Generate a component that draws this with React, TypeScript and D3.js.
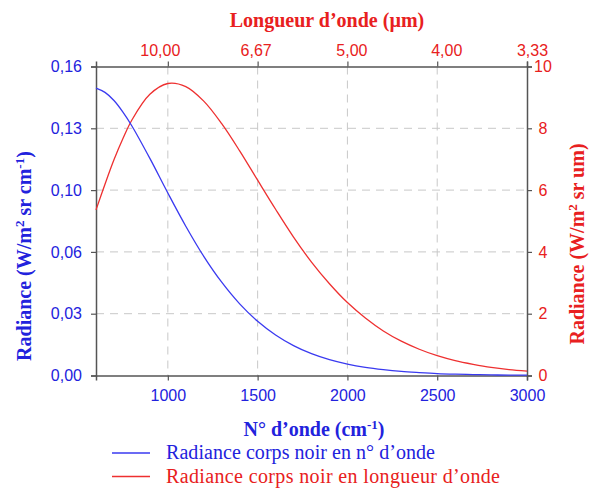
import * as d3 from "d3";
import { useEffect, useRef } from "react";

// wavenumber grid (cm-1)
const waveNumbers = [600, 650, 700, 750, 800, 900, 1000, 1100, 1200, 1300, 1400, 1500, 1600, 1700, 1800,
  1900, 2000, 2100, 2200, 2300, 2400, 2500, 2600, 2700, 2800, 2900, 3000];
// radiance per wavenumber (W/m2 sr cm-1)
const radianceNu = [0.1488, 0.1466, 0.1424, 0.1364, 0.1292, 0.1124, 0.0945, 0.0773, 0.0617, 0.0483,
  0.0371, 0.0281, 0.0210, 0.0155, 0.0113, 0.0082, 0.0059, 0.0042, 0.0030, 0.0021, 0.0015, 0.0010,
  0.0007, 0.0005, 0.0003, 0.0002, 0.00016];
// radiance per wavelength (W/m2 sr um)
const radianceLambda = [5.36, 6.19, 6.98, 7.67, 8.27, 9.10, 9.45, 9.35, 8.88, 8.15, 7.27, 6.32, 5.38,
  4.48, 3.67, 2.97, 2.36, 1.86, 1.44, 1.11, 0.85, 0.64, 0.48, 0.36, 0.26, 0.19, 0.14];

const bottomTicks = [1000, 1500, 2000, 2500, 3000];
const topTickLabels = ["10,00", "6,67", "5,00", "4,00", "3,33"];
const leftTickValues = [0, 0.032, 0.064, 0.096, 0.128, 0.16];
const leftTickLabels = ["0,00", "0,03", "0,06", "0,10", "0,13", "0,16"];
const rightTicks = [0, 2, 4, 6, 8, 10];

// the top labels sit a little off their ticks in the original
const topLabelShift = [-8, -2, 4, 9, 5];

const BLUE = "#2222dd";
const RED = "#e82020";
const LINE_BLUE = "#3a3af0";
const LINE_RED = "#ee3030";

const App = () => {
  const ref = useRef<SVGSVGElement>(null);
  const margin = { top: 66.5, right: 62, bottom: 112.5, left: 96 };
  const W = 589;
  const H = 488;
  const width = W - margin.left - margin.right;
  const height = H - margin.top - margin.bottom;

  useEffect(() => {
    const svg = d3.select(ref.current);
    svg.selectAll("*").remove();

    const x = d3.scaleLinear().domain([600, 3000]).range([0, width]);
    const yL = d3.scaleLinear().domain([0, 0.16]).range([height, 0]);
    const yR = d3.scaleLinear().domain([0, 10]).range([height, 0]);

    const g = svg.append("g").attr("transform", `translate(${margin.left},${margin.top})`);

    // grid
    g.selectAll(".vgrid").data(bottomTicks.slice(0, -1)).join("line")
      .attr("x1", (d) => x(d)).attr("x2", (d) => x(d))
      .attr("y1", 0).attr("y2", height)
      .attr("stroke", "#c8c8c8").attr("stroke-dasharray", "8,6");
    g.selectAll(".hgrid").data(rightTicks.slice(1, -1)).join("line")
      .attr("x1", 0).attr("x2", width)
      .attr("y1", (d) => yR(d)).attr("y2", (d) => yR(d))
      .attr("stroke", "#c8c8c8").attr("stroke-dasharray", "8,6");

    const font = "'Liberation Sans', Arial, sans-serif";

    // bottom axis
    const xAxis = d3.axisBottom(x).tickValues(bottomTicks).tickSize(5).tickPadding(9)
      .tickFormat(d3.format("d"));
    const gx = g.append("g").attr("transform", `translate(0,${height})`).call(xAxis);
    gx.selectAll("text").attr("fill", BLUE);

    // top axis
    const xTop = d3.axisTop(x).tickValues(bottomTicks).tickSize(5).tickPadding(6)
      .tickFormat((_, i) => topTickLabels[i]);
    const gt = g.append("g").call(xTop);
    gt.selectAll("text").attr("fill", RED).attr("dx", (_, i) => topLabelShift[i]);

    // left axis
    const yAxisL = d3.axisLeft(yL).tickValues(leftTickValues).tickSize(5).tickPadding(9)
      .tickFormat((_, i) => leftTickLabels[i]);
    const gl = g.append("g").call(yAxisL);
    gl.selectAll("text").attr("fill", BLUE);

    // right axis
    const yAxisR = d3.axisRight(yR).tickValues(rightTicks).tickSize(5).tickPadding(11)
      .tickFormat(d3.format("d"));
    const gr = g.append("g").attr("transform", `translate(${width},0)`).call(yAxisR);
    gr.selectAll("text").attr("fill", RED).attr("text-anchor", "middle").attr("x", 16);

    for (const ax of [gx, gt, gl, gr]) {
      ax.selectAll("path.domain").attr("stroke", "#555").attr("stroke-width", 1.5);
      ax.selectAll(".tick line").attr("stroke", "#555").attr("stroke-width", 1.2);
      ax.selectAll("text").style("font-family", font).style("font-size", "16px");
    }

    // curves
    const lineNu = d3.line<number>()
      .x((_, i) => x(waveNumbers[i])).y((d) => yL(d)).curve(d3.curveCatmullRom);
    const lineLambda = d3.line<number>()
      .x((_, i) => x(waveNumbers[i])).y((d) => yR(d)).curve(d3.curveCatmullRom);

    g.append("path").datum(radianceLambda).attr("d", lineLambda)
      .attr("fill", "none").attr("stroke", LINE_RED).attr("stroke-width", 1.3);
    g.append("path").datum(radianceNu).attr("d", lineNu)
      .attr("fill", "none").attr("stroke", LINE_BLUE).attr("stroke-width", 1.3);

    // titles
    const serif = "'Liberation Serif', 'Times New Roman', serif";
    svg.append("text").attr("x", 327).attr("y", 27).attr("text-anchor", "middle")
      .attr("fill", RED).style("font-family", serif).style("font-size", "20px")
      .style("font-weight", "bold").text("Longueur d\u2019onde (\u00b5m)");

    const bt = svg.append("text").attr("x", 314).attr("y", 436).attr("text-anchor", "middle")
      .attr("fill", BLUE).style("font-family", serif).style("font-size", "20px")
      .style("font-weight", "bold");
    bt.append("tspan").text("N\u00b0 d\u2019onde (cm");
    bt.append("tspan").attr("dy", -7).style("font-size", "13px").text("-1");
    bt.append("tspan").attr("dy", 7).text(")");

    const lt = svg.append("text").attr("transform", "translate(31,256) rotate(-90)")
      .attr("text-anchor", "middle").attr("fill", BLUE).style("font-family", serif)
      .style("font-size", "20px").style("font-weight", "bold");
    lt.append("tspan").text("Radiance (W/m");
    lt.append("tspan").attr("dy", -7).style("font-size", "13px").text("2");
    lt.append("tspan").attr("dy", 7).text(" sr cm");
    lt.append("tspan").attr("dy", -7).style("font-size", "13px").text("-1");
    lt.append("tspan").attr("dy", 7).text(")");

    const rt = svg.append("text").attr("transform", "translate(584,244) rotate(-90)")
      .attr("text-anchor", "middle").attr("fill", RED).style("font-family", serif)
      .style("font-size", "20px").style("font-weight", "bold");
    rt.append("tspan").text("Radiance (W/m");
    rt.append("tspan").attr("dy", -7).style("font-size", "13px").text("2");
    rt.append("tspan").attr("dy", 7).text(" sr um)");

    // legend
    const legend = [
      { label: "Radiance corps noir en n\u00b0 d\u2019onde", color: LINE_BLUE, text: BLUE, len: 269 },
      { label: "Radiance corps noir en longueur d\u2019onde", color: LINE_RED, text: RED, len: 334 },
    ];
    legend.forEach((l, i) => {
      const yy = 453 + i * 23.5;
      svg.append("line").attr("x1", 112).attr("x2", 150).attr("y1", yy).attr("y2", yy)
        .attr("stroke", l.color).attr("stroke-width", 1.3);
      svg.append("text").attr("x", 166).attr("y", yy + 6).attr("fill", l.text)
        .attr("textLength", l.len).attr("lengthAdjust", "spacing")
        .style("font-family", serif).style("font-size", "20px").text(l.label);
    });
  }, []);

  return (
    <svg ref={ref} width={W} height={H}
      style={{ position: "absolute", left: 0, top: 0, background: "#fff" }} />
  );
};

export default App;
